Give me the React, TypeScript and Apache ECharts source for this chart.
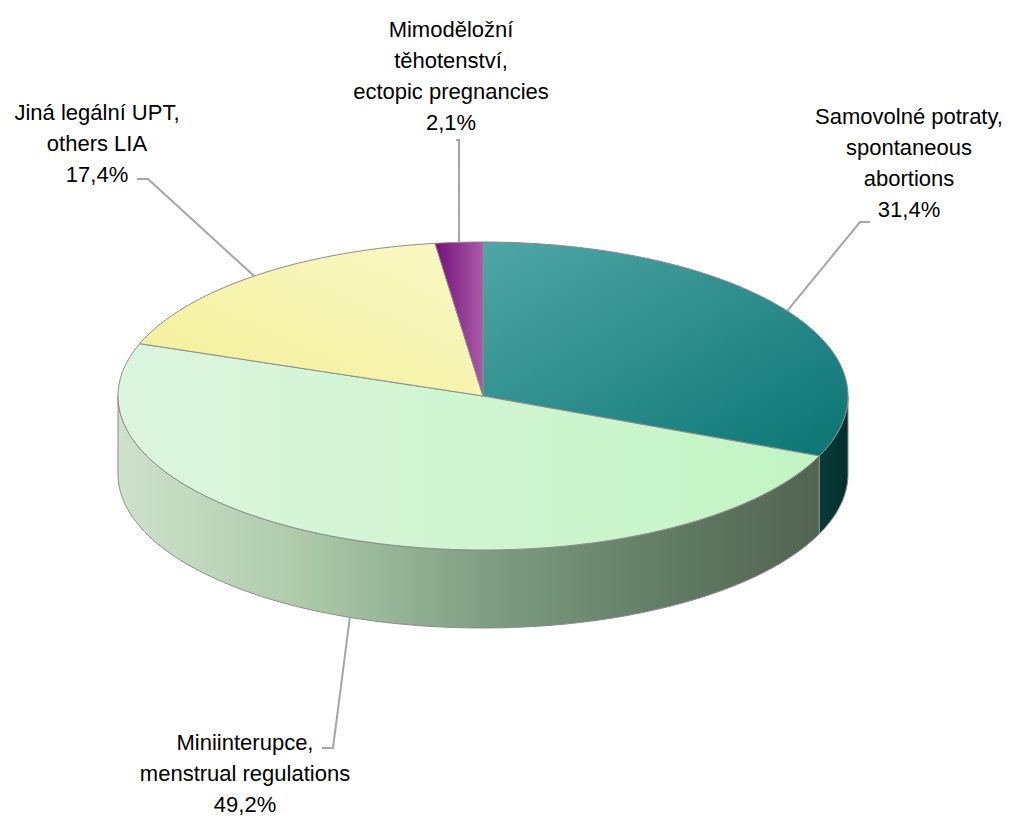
import React, { useEffect, useRef } from "react";
import * as echarts from "echarts";

// ---- data ----
const categories = [
  "Samovolné potraty,\nspontaneous\nabortions",
  "Miniinterupce,\nmenstrual regulations",
  "Jiná legální UPT,\nothers LIA",
  "Mimoděložní\ntěhotenství,\nectopic pregnancies",
];
const values = [31.4, 49.2, 17.4, 2.1];

// ---- layout / style (not data) ----
const CX = 483, CY = 396, RX = 365, RY = 154, DEPTH = 78;
const FONT = '22px "Liberation Sans", Arial, sans-serif';
const LINE_H = 31;
// elbow + end of leader, text center x, text top y
const labelLayout = [
  { elbow: [860, 222], end: [870, 222], tx: 909, ty: 101 },
  { elbow: [333, 748], end: [322, 748], tx: 245, ty: 727 },
  { elbow: [148, 179], end: [137, 179], tx: 97, ty: 97 },
  { elbow: [459, 140], end: [456, 140], tx: 451, ty: 14 },
];

const total = values.reduce((a, b) => a + b, 0);
const starts: number[] = [];
const ends: number[] = [];
{
  let c = 0;
  values.forEach((v) => {
    starts.push((c / total) * Math.PI * 2);
    c += v;
    ends.push((c / total) * Math.PI * 2);
  });
}

function pt(t: number, dy = 0): number[] {
  return [CX + RX * Math.sin(t), CY - RY * Math.cos(t) + dy];
}
function arc(a: number, b: number, dy = 0): number[][] {
  const n = Math.max(2, Math.ceil(((b - a) * 180) / Math.PI));
  const out: number[][] = [];
  for (let k = 0; k <= n; k++) out.push(pt(a + ((b - a) * k) / n, dy));
  return out;
}

const G = echarts.graphic.LinearGradient as any;
const topFills = [
  new G(0, 0, 1, 1, [
    { offset: 0, color: "#4fa6a5" },
    { offset: 1, color: "#0a7574" },
  ]),
  new G(0, 0, 1, 0, [
    { offset: 0, color: "#ddf5df" },
    { offset: 1, color: "#c2f5c3" },
  ]),
  new G(0, 1, 1, 0, [
    { offset: 0, color: "#f3ef96" },
    { offset: 1, color: "#f9f8c6" },
  ]),
  new G(0, 0, 1, 0, [
    { offset: 0, color: "#761079" },
    { offset: 1, color: "#a95ba9" },
  ]),
];
const sideFills = [
  new G(CX + RX * 0.9, 0, CX + RX, 0, [
    { offset: 0, color: "#0a3d3b" },
    { offset: 1, color: "#022f2e" },
  ], true),
  new G(CX - RX, 0, CX + RX, 0, [
    { offset: 0, color: "#cfe2cc" },
    { offset: 0.25, color: "#aecaab" },
    { offset: 0.5, color: "#7e9f83" },
    { offset: 0.75, color: "#627c65" },
    { offset: 1, color: "#4f5f4e" },
  ], true),
  "#cccc80",
  "#602060",
];

export default function App() {
  const ref = useRef<HTMLDivElement>(null);
  useEffect(() => {
    if (!ref.current) return;
    const chart = echarts.init(ref.current, null, { renderer: "svg" });
    const seriesData = values.map((v, i) => ({ name: categories[i], value: v }));
    chart.setOption({
      animation: false,
      backgroundColor: "#ffffff",
      series: [
        {
          type: "custom",
          coordinateSystem: "none",
          silent: true,
          z: 1,
          data: seriesData,
          renderItem: (params: any) => {
            const i = params.dataIndex;
            const lo = Math.max(starts[i], Math.PI / 2);
            const hi = Math.min(ends[i], (3 * Math.PI) / 2);
            if (hi <= lo) return { type: "group", children: [] };
            const pts = arc(lo, hi, 0).concat(arc(lo, hi, DEPTH).reverse());
            return {
              type: "polygon",
              shape: { points: pts },
              style: { fill: sideFills[i], stroke: "#8c8c8c", lineWidth: 1 },
            };
          },
        },
        {
          type: "custom",
          coordinateSystem: "none",
          silent: true,
          z: 2,
          data: seriesData,
          renderItem: (params: any) => {
            const i = params.dataIndex;
            const a = starts[i], b = ends[i];
            const pts = [[CX, CY]].concat(arc(a, b, 0));
            const mid = (a + b) / 2;
            const front = Math.cos(mid) < 0;
            const p0 = pt(mid, front ? DEPTH : 0);
            const L = labelLayout[i];
            const pct = values[i].toFixed(1).replace(".", ",") + "%";
            return {
              type: "group",
              children: [
                {
                  type: "polygon",
                  shape: { points: pts },
                  style: { fill: topFills[i], stroke: "#8c8c8c", lineWidth: 1 },
                },
                {
                  type: "polyline",
                  shape: { points: [p0, L.elbow, L.end] },
                  style: { fill: null, stroke: "#a6a6a6", lineWidth: 2 },
                },
                {
                  type: "text",
                  x: L.tx,
                  y: L.ty,
                  style: {
                    text: categories[i] + "\n" + pct,
                    fill: "#000000",
                    font: FONT,
                    align: "center",
                    verticalAlign: "top",
                    lineHeight: LINE_H,
                  },
                },
              ],
            };
          },
        },
      ],
    });
    return () => chart.dispose();
  }, []);
  return (
    <div
      ref={ref}
      style={{ position: "absolute", left: 0, top: 0, width: 1013, height: 818 }}
    />
  );
}
